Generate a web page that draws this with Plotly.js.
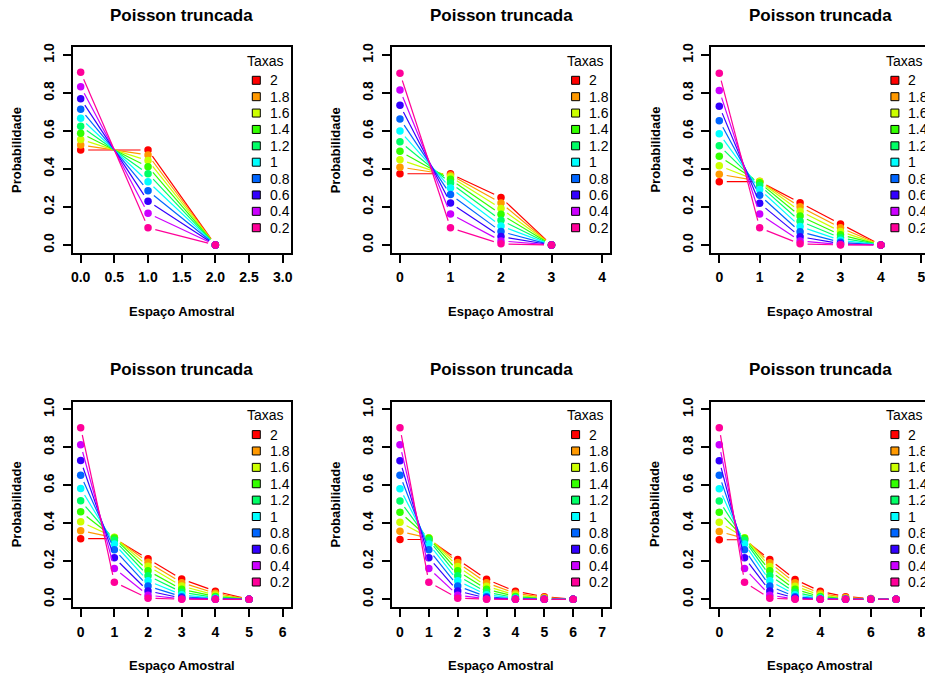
<!DOCTYPE html>
<html>
<head>
<meta charset="utf-8">
<script src="https://cdn.plot.ly/plotly-3.0.1.min.js"></script>
<style>
html,body{margin:0;padding:0;overflow:hidden;background:#fff;}
#chart{width:958px;height:674px;}
</style>
</head>
<body>
<div id="chart"></div>
<script>
// ---- data ----
const taxas = ["2","1.8","1.6","1.4","1.2","1","0.8","0.6","0.4","0.2"];
const cores = ["#FF0000","#FF9900","#CCFF00","#33FF00","#00FF66","#00FFFF","#0066FF","#3300FF","#CC00FF","#FF0099"];

const espaco_n2 = [0,1,2];
const espaco_n3 = [0,1,2,3];
const espaco_n4 = [0,1,2,3,4];
const espaco_n5 = [0,1,2,3,4,5];
const espaco_n6 = [0,1,2,3,4,5,6];
const espaco_n7 = [0,1,2,3,4,5,6,7];

const prob_n2 = [
 [0.5000,0.5000,0],
 [0.5263,0.4737,0],
 [0.5556,0.4444,0],
 [0.5882,0.4118,0],
 [0.6250,0.3750,0],
 [0.6667,0.3333,0],
 [0.7143,0.2857,0],
 [0.7692,0.2308,0],
 [0.8333,0.1667,0],
 [0.9091,0.0909,0]
];
const prob_n3 = [
 [0.3750,0.3750,0.2500,0],
 [0.4098,0.3689,0.2213,0],
 [0.4491,0.3593,0.1916,0],
 [0.4934,0.3454,0.1612,0],
 [0.5435,0.3261,0.1304,0],
 [0.6000,0.3000,0.1000,0],
 [0.6637,0.2655,0.0708,0],
 [0.7353,0.2206,0.0441,0],
 [0.8152,0.1630,0.0217,0],
 [0.9036,0.0904,0.0060,0]
];
const prob_n4 = [
 [0.3333,0.3333,0.2222,0.1111,0],
 [0.3727,0.3355,0.2013,0.0906,0],
 [0.4171,0.3337,0.1780,0.0712,0],
 [0.4671,0.3270,0.1526,0.0534,0],
 [0.5230,0.3138,0.1255,0.0377,0],
 [0.5854,0.2927,0.0976,0.0244,0],
 [0.6545,0.2618,0.0698,0.0140,0],
 [0.7305,0.2191,0.0438,0.0066,0],
 [0.8134,0.1627,0.0217,0.0022,0],
 [0.9033,0.0903,0.0060,0.0003,0]
];
const prob_n5 = [
 [0.3191,0.3191,0.2128,0.1064,0.0426,0],
 [0.3610,0.3249,0.1949,0.0877,0.0316,0],
 [0.4078,0.3263,0.1740,0.0696,0.0223,0],
 [0.4602,0.3221,0.1503,0.0526,0.0147,0],
 [0.5183,0.3110,0.1244,0.0373,0.0090,0],
 [0.5825,0.2913,0.0971,0.0243,0.0049,0],
 [0.6530,0.2612,0.0697,0.0139,0.0022,0],
 [0.7299,0.2190,0.0438,0.0066,0.0008,0],
 [0.8133,0.1627,0.0217,0.0022,0.0002,0],
 [0.9033,0.0903,0.0060,0.0003,0.0000,0]
];
const prob_n6 = [
 [0.3147,0.3147,0.2098,0.1049,0.0420,0.0140,0],
 [0.3576,0.3218,0.1931,0.0869,0.0313,0.0094,0],
 [0.4054,0.3243,0.1730,0.0692,0.0221,0.0059,0],
 [0.4586,0.3210,0.1498,0.0524,0.0147,0.0034,0],
 [0.5174,0.3104,0.1242,0.0373,0.0089,0.0018,0],
 [0.5820,0.2910,0.0970,0.0243,0.0049,0.0008,0],
 [0.6528,0.2611,0.0696,0.0139,0.0022,0.0003,0],
 [0.7298,0.2189,0.0438,0.0066,0.0008,0.0001,0],
 [0.8133,0.1627,0.0217,0.0022,0.0002,0.0000,0],
 [0.9033,0.0903,0.0060,0.0003,0.0000,0.0000,0]
];
const prob_n7 = [
 [0.3134,0.3134,0.2090,0.1045,0.0418,0.0139,0.0040,0],
 [0.3567,0.3210,0.1926,0.0867,0.0312,0.0094,0.0024,0],
 [0.4049,0.3239,0.1728,0.0691,0.0221,0.0059,0.0013,0],
 [0.4583,0.3208,0.1497,0.0524,0.0147,0.0034,0.0007,0],
 [0.5172,0.3103,0.1241,0.0372,0.0089,0.0018,0.0003,0],
 [0.5820,0.2910,0.0970,0.0243,0.0049,0.0008,0.0001,0],
 [0.6528,0.2611,0.0696,0.0139,0.0022,0.0003,0.0000,0],
 [0.7298,0.2189,0.0438,0.0066,0.0008,0.0001,0.0000,0],
 [0.8133,0.1627,0.0217,0.0022,0.0002,0.0000,0.0000,0],
 [0.9033,0.0903,0.0060,0.0003,0.0000,0.0000,0.0000,0]
];

const titulo = "Poisson truncada";
const rotuloX = "Espaço Amostral";
const rotuloY = "Probabilidade";
const tituloLegenda = "Taxas";

// ---- layout geometry (pixels) ----
const PW = 958, PH = 674;
const BOX_W = 218.2, BOX_H = 205.2;
const COL0 = 72.6, COLSTEP = 319.3;
const ROW0 = 47.4, ROWSTEP = 354.3;
const GAP = 7.5;
const FONT = "Liberation Sans, Arial, Helvetica, sans-serif";

const painéis = [
  {esp: espaco_n2, prob: prob_n2, xmax: 3, dtick: 0.5, fmt: ".1f"},
  {esp: espaco_n3, prob: prob_n3, xmax: 4, dtick: 1, fmt: "d"},
  {esp: espaco_n4, prob: prob_n4, xmax: 5, dtick: 1, fmt: "d"},
  {esp: espaco_n5, prob: prob_n5, xmax: 6, dtick: 1, fmt: "d"},
  {esp: espaco_n6, prob: prob_n6, xmax: 7, dtick: 1, fmt: "d"},
  {esp: espaco_n7, prob: prob_n7, xmax: 8, dtick: 2, fmt: "d"}
];

const fx = px => px / PW;
const fy = py => 1 - py / PH;

function gapSegments(xs, ys, xr, yr) {
  const sx = BOX_W / (xr[1] - xr[0]), sy = BOX_H / (yr[1] - yr[0]);
  const ox = [], oy = [];
  for (let i = 0; i < xs.length - 1; i++) {
    const ddx = xs[i+1] - xs[i], ddy = ys[i+1] - ys[i];
    const L = Math.hypot(ddx * sx, ddy * sy);
    if (L <= 2 * GAP) continue;
    const f = GAP / L;
    ox.push(xs[i] + ddx * f, xs[i+1] - ddx * f, null);
    oy.push(ys[i] + ddy * f, ys[i+1] - ddy * f, null);
  }
  return [ox, oy];
}

const traces = [];
const layout = {
  width: PW, height: PH,
  margin: {l:0, r:0, t:0, b:0},
  paper_bgcolor: "#fff", plot_bgcolor: "#fff",
  showlegend: false,
  annotations: [], shapes: []
};

const yr = [-0.04, 1.04];

painéis.forEach((p, i) => {
  const col = i % 3, row = Math.floor(i / 3);
  const BL = COL0 + COLSTEP * col;
  const BT = ROW0 + ROWSTEP * row;
  const sfx = i === 0 ? "" : String(i + 1);
  const xr = [-0.04 * p.xmax, 1.04 * p.xmax];

  const tickfont = {family: FONT, size: 14, color: "#000", weight: "bold"};
  layout["xaxis" + sfx] = {
    domain: [fx(BL), fx(BL + BOX_W)], anchor: "y" + sfx,
    range: xr, tick0: 0, dtick: p.dtick, tickformat: p.fmt,
    showline: true, mirror: true, linecolor: "#000", linewidth: 2,
    ticks: "outside", ticklen: 8, tickwidth: 2, tickcolor: "#000",
    showgrid: false, zeroline: false, tickfont: tickfont, ticklabelstandoff: 3
  };
  layout["yaxis" + sfx] = {
    domain: [fy(BT + BOX_H), fy(BT)], anchor: "x" + sfx,
    range: yr, tick0: 0, dtick: 0.2, tickformat: ".1f", tickangle: -90,
    showline: true, mirror: true, linecolor: "#000", linewidth: 2,
    ticks: "outside", ticklen: 8, tickwidth: 2, tickcolor: "#000",
    showgrid: false, zeroline: false, tickfont: tickfont, ticklabelstandoff: 3
  };

  p.prob.forEach((ys, s) => {
    const [gx, gy] = gapSegments(p.esp, ys, xr, yr);
    traces.push({
      type: "scatter", mode: "lines", x: gx, y: gy,
      xaxis: "x" + sfx, yaxis: "y" + sfx,
      line: {color: cores[s], width: 1.2}, hoverinfo: "skip", connectgaps: false
    });
    traces.push({
      type: "scatter", mode: "markers", x: p.esp, y: ys,
      xaxis: "x" + sfx, yaxis: "y" + sfx,
      marker: {color: cores[s], size: 7.5, line: {width: 0}}, name: taxas[s]
    });
  });

  // title
  layout.annotations.push({
    text: "<b>" + titulo + "</b>", xref: "paper", yref: "paper",
    x: fx(BL + BOX_W / 2), y: fy(BT - 32.4), xanchor: "center", yanchor: "middle",
    showarrow: false, font: {family: FONT, size: 17, color: "#000"}
  });
  // x title
  layout.annotations.push({
    text: "<b>" + rotuloX + "</b>", xref: "paper", yref: "paper",
    x: fx(BL + BOX_W / 2), y: fy(BT + BOX_H + 58.5), xanchor: "center", yanchor: "middle",
    showarrow: false, font: {family: FONT, size: 13, color: "#000"}
  });
  // y title
  layout.annotations.push({
    text: "<b>" + rotuloY + "</b>", xref: "paper", yref: "paper",
    x: fx(BL - 56.6), y: fy(BT + BOX_H / 2), xanchor: "center", yanchor: "middle",
    textangle: -90, showarrow: false, font: {family: FONT, size: 13, color: "#000"}
  });
  // legend title
  layout.annotations.push({
    text: tituloLegenda, xref: "paper", yref: "paper",
    x: fx(BL + 193.1), y: fy(BT + 13.3), xanchor: "center", yanchor: "middle",
    showarrow: false, font: {family: FONT, size: 14, color: "#000"}
  });
  taxas.forEach((t, s) => {
    const cy = BT + 32.9 + 16.38 * s;
    const cx = BL + 183.7;
    layout.shapes.push({
      type: "rect", xref: "paper", yref: "paper",
      x0: fx(cx - 4), x1: fx(cx + 4), y0: fy(cy + 4), y1: fy(cy - 4),
      fillcolor: cores[s], line: {color: "#000", width: 1}
    });
    layout.annotations.push({
      text: t, xref: "paper", yref: "paper",
      x: fx(BL + 196.2), y: fy(cy), xanchor: "left", yanchor: "middle",
      showarrow: false, font: {family: FONT, size: 14, color: "#000"}, borderpad: 0
    });
  });
});

Plotly.newPlot("chart", traces, layout, {staticPlot: true, displayModeBar: false});
</script>
</body>
</html>
